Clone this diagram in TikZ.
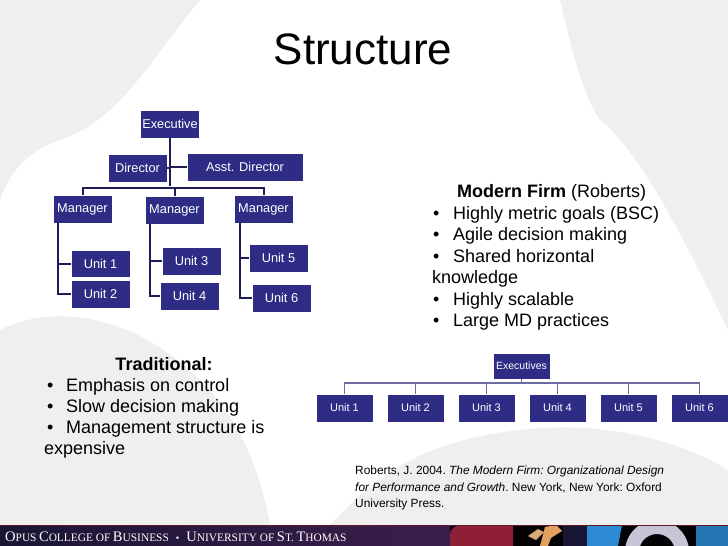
\documentclass[tikz,border=0pt]{standalone}
\usepackage{fontspec}
\setmainfont{Liberation Sans}
\newfontfamily\footserif{Liberation Serif}
\usetikzlibrary{calc}
\definecolor{boxblue}{HTML}{2E2C85}
\definecolor{linenavy}{HTML}{1E1E55}
\definecolor{linelight}{HTML}{6C6CA3}
\definecolor{wm}{HTML}{EFEFEF}
\definecolor{footA}{HTML}{1A1535}
\definecolor{footB}{HTML}{3B1E4A}
\definecolor{footred}{HTML}{8E1F37}
\definecolor{foottan}{HTML}{D9A877}
\definecolor{footblue}{HTML}{2C8AD2}
\definecolor{footring}{HTML}{C5C5D5}
\newcommand\fsc[2]{{\fontsize{14.5}{16}\selectfont #1}{\fontsize{11.4}{16}\selectfont #2}}
\begin{document}
\begin{tikzpicture}[x=1pt,y=-1pt,
  box/.style={fill=boxblue, draw=white, line width=0.6pt, text=white, inner sep=0pt,
    minimum height=28pt, minimum width=59pt, font=\fontsize{12.8}{14}\selectfont},
  sbox/.style={box, minimum width=57pt, font=\fontsize{11}{13}\selectfont},
  conn/.style={draw=linenavy, line width=2pt},
  lconn/.style={draw=linelight, line width=1.6pt},
  body/.style={anchor=base west, inner sep=0pt, font=\fontsize{18}{21}\selectfont},
  cite/.style={anchor=base west, inner sep=0pt, font=\fontsize{11.9}{13}\selectfont\frenchspacing}]
\useasboundingbox (0,0) rectangle (728,546);
% background watermark
\fill[white] (0,0) rectangle (728,546);
\fill[wm] (0,0) -- (200,0) .. controls (150,60) and (120,120) .. (60,140) .. controls (30,150) and (10,170) .. (0,200) -- cycle;
\fill[wm] (560,0) -- (728,0) -- (728,330) .. controls (690,250) and (640,150) .. (600,120) .. controls (580,90) and (570,40) .. (560,0) -- cycle;
\fill[wm] (0,330) .. controls (60,300) and (140,320) .. (200,380) .. controls (240,420) and (260,470) .. (270,525) -- (0,525) -- cycle;
\fill[wm] (330,525) .. controls (380,470) and (430,440) .. (520,430) .. controls (600,420) and (680,440) .. (728,470) -- (728,525) -- cycle;
% title
\node[inner sep=0pt, anchor=base, font=\fontsize{44}{48}\selectfont] (title) at (363,64) {Structure};
% traditional chart
\node[box] (exec) at (170,124) {Executive};
\node[box] (dir) at (137.5,168) {Director};
\node[box, minimum width=116pt] (asst) at (245,167) {Asst. Director};
\node[box] (m1) at (82.5,209) {Manager};
\node[box] (m2) at (174.5,210) {Manager};
\node[box] (m3) at (263.5,209) {Manager};
\node[box, minimum height=27pt] (u1) at (100.5,263.5) {Unit 1};
\node[box] (u2) at (100.5,294) {Unit 2};
\node[box] (u3) at (191.5,261) {Unit 3};
\node[box] (u4) at (189.5,296) {Unit 4};
\node[box] (u5) at (278.5,258) {Unit 5};
\node[box] (u6) at (281.5,298) {Unit 6};
\coordinate (bar) at (170,188);
\draw[conn] (exec.south) -- ([yshift=2pt]bar);
\draw[conn] (dir.east) -- (dir.east -| exec);
\draw[conn] (asst.west) -- (asst.west -| exec);
\draw[conn] (m1.north) |- (bar);
\draw[conn] (m2.north) |- (bar);
\draw[conn] (m3.north) |- (bar);
\coordinate (m1s) at ([xshift=5pt]m1.south west);
\coordinate (m2s) at ([xshift=5pt]m2.south west);
\coordinate (m3s) at ([xshift=6pt]m3.south west);
\draw[conn] (m1s) |- (u2.west);
\draw[conn] (u1.west) -- (u1.west -| m1s);
\draw[conn] (m2s) |- (u4.west);
\draw[conn] (u3.west) -- (u3.west -| m2s);
\draw[conn] (m3s) |- (u6.west);
\draw[conn] (u5.west) -- (u5.west -| m3s);
% modern firm text
\node[body] (mft) at (457,197) {\textbf{Modern Firm} (Roberts)};
\node[body] (mf1) at (433,219) {\makebox[20pt][l]{•}Highly metric goals (BSC)};
\node[body] (mf2) at (433,240.5) {\makebox[20pt][l]{•}Agile decision making};
\node[body] (mf3) at (433,262) {\makebox[20pt][l]{•}Shared horizontal};
\node[body] (mf3b) at (432,283.5) {knowledge};
\node[body] (mf4) at (433,305) {\makebox[20pt][l]{•}Highly scalable};
\node[body] (mf5) at (433,326.5) {\makebox[20pt][l]{•}Large MD practices};
% traditional text
\node[body, anchor=base] (trt) at (164,370) {\textbf{Traditional:}};
\node[body] (tr1) at (47,391) {\makebox[19pt][l]{•}Emphasis on control};
\node[body] (tr2) at (47,412) {\makebox[19pt][l]{•}Slow decision making};
\node[body] (tr3) at (47,433) {\makebox[19pt][l]{•}Management structure is};
\node[body] (tr3b) at (44,454) {expensive};
% modern chart
\node[sbox, minimum height=26pt, font=\fontsize{10.5}{12}\selectfont] (execs) at (521.5,366) {Executives};
\foreach \i in {1,...,6} {
  \node[sbox] (b\i) at ({344.5+71*(\i-1)},408) {Unit \i};
}
\coordinate (bbar) at (521.5,383);
\draw[lconn] (execs.south) -- (bbar);
\foreach \i in {1,...,6} {
  \draw[lconn] (b\i.north) |- (bbar);
}
% citation
\node[cite] (c1) at (355,474) {Roberts, J. 2004. \textit{The Modern Firm: Organizational Design}};
\node[cite] (c2) at (355,491) {\textit{for Performance and Growth}. New York, New York: Oxford};
\node[cite] (c3) at (355,507.5) {University Press.};
% footer
\begin{scope}
\clip (0,525) rectangle (728,546);
\shade[left color=footA, right color=footB] (0,525) rectangle (450,546);
\fill[black!90!footA] (450,525) rectangle (728,546);
\fill[footred] (450,546) -- (450,535) .. controls (450,528) and (455,525) .. (465,525) -- (513,525) -- (513,546) -- cycle;
\fill[foottan] (528,536) -- (538,529) -- (544,532) -- (536,540) -- cycle;
\fill[foottan!80!orange] (545,527) -- (556,525) -- (562,531) -- (551,538) -- (548,546) -- (540,546) -- cycle;
\fill[footA] (563,525) rectangle (587,546);
\fill[footblue] (587,525) -- (622,525) -- (618,546) -- (587,546) -- cycle;
\fill[footring, even odd rule] (657,552) circle (32) (657,552) circle (18);
\fill[black!90!footA] (657,552) circle (10);
\fill[footblue!85!black] (696,525) rectangle (728,546);
\end{scope}
\draw[footred!70!black, line width=0.8pt] (0,525) -- (728,525);
\node[anchor=base west, inner sep=0pt, text=white, font=\footserif] (foot) at (5,541)
  {\fsc{O}{PUS} \fsc{C}{OLLEGE OF} \fsc{B}{USINESS}\hspace{7pt}\textbullet\hspace{7pt}\fsc{U}{NIVERSITY OF} \fsc{S}{T.} \fsc{T}{HOMAS}};
\end{tikzpicture}
\end{document}
